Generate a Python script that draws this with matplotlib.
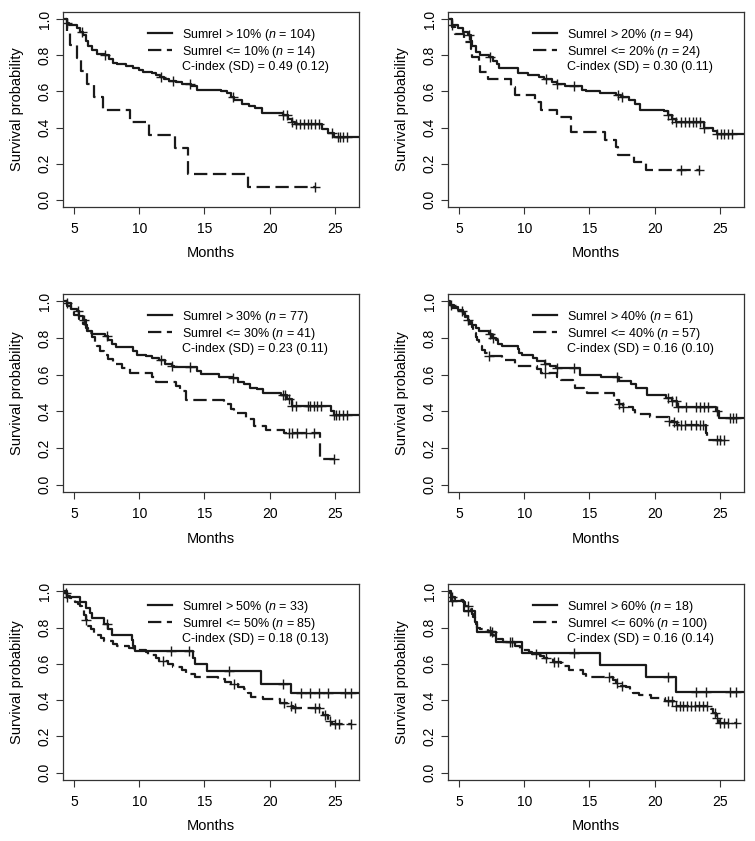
import matplotlib
matplotlib.use('Agg')
import matplotlib.pyplot as plt
import numpy as np
from matplotlib.lines import Line2D

plt.rcParams['font.family'] = ['Liberation Sans', 'DejaVu Sans']
plt.rcParams['mathtext.fontset'] = 'custom'
plt.rcParams['mathtext.rm'] = 'Liberation Sans'
plt.rcParams['mathtext.it'] = 'Liberation Sans:italic'

# legend info
thresholds = [10, 20, 30, 40, 50, 60]
n_high = [104, 94, 77, 61, 33, 18]
n_low = [14, 24, 41, 57, 85, 100]
cindex = ['0.49 (0.12)', '0.30 (0.11)', '0.23 (0.11)', '0.16 (0.10)', '0.18 (0.13)', '0.16 (0.14)']

# KM steps as (time, survival) and censor times
hi1 = [(0, 1.0), (4.45, 0.98), (4.6, 0.97), (5.2, 0.95), (5.5, 0.93), (5.7, 0.91), (5.9, 0.88), (6.1, 0.85),
       (6.4, 0.83), (6.8, 0.81), (7.4, 0.80), (7.7, 0.78), (8.0, 0.76), (8.3, 0.75), (9.0, 0.74), (9.5, 0.73),
       (10.0, 0.72), (10.3, 0.71), (11.0, 0.70), (11.3, 0.69), (11.6, 0.68), (11.9, 0.67), (12.3, 0.66),
       (12.8, 0.65), (13.3, 0.64), (14.0, 0.63), (14.4, 0.61), (16.3, 0.60), (16.7, 0.59), (17.0, 0.57),
       (17.3, 0.55), (17.9, 0.53), (18.4, 0.52), (18.9, 0.51), (19.4, 0.48), (21.0, 0.47), (21.4, 0.45),
       (21.7, 0.43), (21.9, 0.42), (24.0, 0.39), (24.5, 0.37), (24.9, 0.35), (27.5, 0.35)]
hi1_cens = [4.5, 5.6, 7.4, 11.7, 12.6, 13.9, 17.2, 21.0, 21.3, 21.7, 22.0, 22.3, 22.6, 22.9, 23.2, 23.5,
            23.8, 24.8, 25.2, 25.4, 25.6, 25.9]
lo1 = [(0, 1.0), (4.5, 0.929), (4.7, 0.857), (5.25, 0.786), (5.55, 0.714), (5.97, 0.643), (6.56, 0.571),
       (7.25, 0.5), (9.3, 0.429), (10.75, 0.357), (12.75, 0.286), (13.7, 0.143), (18.3, 0.071), (23.5, 0.071)]
lo1_cens = [23.5]

hi2 = [(0, 1.0), (4.5, 0.97), (4.9, 0.95), (5.3, 0.93), (5.7, 0.91), (5.9, 0.88), (6.0, 0.85), (6.3, 0.82),
       (6.6, 0.80), (7.3, 0.79), (7.6, 0.77), (7.9, 0.75), (8.1, 0.73), (9.5, 0.70), (10.3, 0.69), (11.1, 0.68),
       (11.5, 0.67), (12.1, 0.65), (12.5, 0.64), (13.1, 0.63), (14.4, 0.61), (14.7, 0.60), (15.8, 0.59),
       (17.0, 0.58), (17.4, 0.57), (18.0, 0.55), (18.5, 0.53), (18.9, 0.50), (20.7, 0.49), (21.0, 0.47),
       (21.3, 0.45), (21.6, 0.43), (23.8, 0.40), (24.5, 0.38), (24.8, 0.365), (27.5, 0.365)]
hi2_cens = [4.5, 5.8, 7.4, 11.7, 12.5, 13.8, 17.2, 17.5, 21.0, 21.3, 21.6, 22.0, 22.3, 22.6, 22.9, 23.2,
            23.5, 23.8, 24.8, 25.1, 25.3, 25.6, 25.9]
lo2 = [(0, 1.0), (4.5, 0.958), (4.7, 0.917), (5.4, 0.875), (5.9, 0.833), (6.0, 0.792), (6.5, 0.75),
       (6.6, 0.708), (7.2, 0.667), (9.0, 0.625), (9.3, 0.583), (10.8, 0.542), (11.3, 0.50), (12.5, 0.458),
       (13.6, 0.375), (16.2, 0.333), (17.0, 0.292), (17.2, 0.25), (18.4, 0.208), (19.3, 0.167), (23.5, 0.167)]
lo2_cens = [22.0, 23.4]

hi3 = [(0, 1.0), (4.5, 0.99), (4.8, 0.96), (5.2, 0.95), (5.4, 0.92), (5.7, 0.90), (5.9, 0.87), (6.0, 0.84),
       (6.4, 0.82), (7.4, 0.81), (7.6, 0.79), (7.9, 0.77), (8.2, 0.75), (9.5, 0.73), (9.8, 0.71), (10.5, 0.70),
       (11.0, 0.69), (11.5, 0.68), (12.0, 0.66), (12.5, 0.65), (12.7, 0.64), (14.4, 0.62), (14.7, 0.605),
       (16.1, 0.59), (17.2, 0.58), (17.6, 0.56), (18.0, 0.55), (18.5, 0.53), (19.0, 0.52), (19.5, 0.50),
       (20.9, 0.49), (21.3, 0.47), (21.7, 0.43), (24.7, 0.40), (24.9, 0.38), (27.5, 0.38)]
hi3_cens = [4.5, 5.3, 5.8, 7.5, 11.7, 12.5, 13.9, 17.2, 21.0, 21.2, 21.5, 21.7, 22.0, 22.9, 23.1, 23.4,
            23.6, 23.9, 24.9, 25.1, 25.3, 25.6, 25.9]
lo3 = [(0, 1.0), (4.5, 0.976), (4.8, 0.951), (5.0, 0.927), (5.4, 0.902), (5.7, 0.878), (5.9, 0.853),
       (6.1, 0.829), (6.4, 0.805), (6.6, 0.78), (6.8, 0.756), (7.0, 0.73), (7.3, 0.707), (7.6, 0.683),
       (8.0, 0.658), (8.7, 0.634), (9.3, 0.61), (11.0, 0.585), (11.3, 0.56), (12.8, 0.537), (13.1, 0.512),
       (13.6, 0.463), (16.5, 0.44), (17.0, 0.415), (17.3, 0.39), (18.2, 0.36), (18.8, 0.32), (19.7, 0.30),
       (21.1, 0.28), (23.85, 0.14), (24.9, 0.14)]
lo3_cens = [21.5, 21.7, 22.1, 22.8, 23.4, 24.9]

hi4 = [(0, 1.0), (4.3, 0.98), (4.6, 0.967), (4.9, 0.951), (5.3, 0.934), (5.5, 0.918), (5.7, 0.90),
       (5.8, 0.885), (6.0, 0.869), (6.3, 0.852), (6.5, 0.836), (7.3, 0.82), (7.5, 0.80), (7.8, 0.787),
       (8.0, 0.77), (8.3, 0.754), (9.5, 0.738), (9.6, 0.72), (9.8, 0.705), (10.7, 0.69), (11.0, 0.673),
       (11.6, 0.656), (12.0, 0.645), (12.4, 0.635), (14.3, 0.60), (15.9, 0.585), (17.3, 0.568), (18.2, 0.55),
       (18.6, 0.53), (19.4, 0.49), (20.9, 0.475), (21.3, 0.455), (21.7, 0.425), (24.7, 0.40), (24.9, 0.365),
       (27.5, 0.365)]
hi4_cens = [4.4, 5.7, 7.4, 7.6, 11.6, 12.5, 13.8, 17.1, 21.0, 21.3, 21.6, 21.8, 22.4, 23.2, 23.5, 23.8,
            24.1, 24.8, 25.8, 26.0, 26.2]
lo4 = [(0, 1.0), (4.3, 0.982), (4.5, 0.965), (5.0, 0.947), (5.3, 0.93), (5.5, 0.912), (5.6, 0.895),
       (5.8, 0.877), (6.0, 0.86), (6.1, 0.842), (6.2, 0.825), (6.3, 0.807), (6.4, 0.789), (6.5, 0.772),
       (6.6, 0.754), (6.8, 0.737), (7.0, 0.72), (7.3, 0.70), (8.3, 0.68), (9.3, 0.66), (9.4, 0.645),
       (11.0, 0.63), (11.3, 0.61), (12.5, 0.59), (12.8, 0.57), (13.7, 0.55), (13.9, 0.53), (14.6, 0.51),
       (14.8, 0.50), (16.9, 0.48), (17.1, 0.46), (17.3, 0.44), (17.6, 0.425), (18.3, 0.405), (18.5, 0.385),
       (19.6, 0.37), (21.1, 0.35), (21.5, 0.34), (21.7, 0.325), (23.9, 0.28), (24.0, 0.245), (25.3, 0.245)]
lo4_cens = [5.2, 7.3, 11.6, 17.3, 17.6, 21.1, 21.5, 21.7, 22.0, 22.3, 22.8, 23.2, 23.5, 23.7, 24.8, 25.0, 25.3]

hi5 = [(0, 1.0), (4.5, 0.97), (5.5, 0.94), (5.9, 0.91), (6.2, 0.88), (6.4, 0.85), (7.3, 0.82), (7.6, 0.79),
       (7.9, 0.76), (9.45, 0.73), (9.55, 0.70), (9.7, 0.67), (14.1, 0.63), (14.3, 0.60), (15.2, 0.56),
       (19.3, 0.49), (21.6, 0.44), (27.5, 0.44)]
hi5_cens = [4.5, 7.5, 12.4, 13.8, 16.9, 21.0, 22.4, 23.1, 23.8, 24.5, 25.8, 26.2]
lo5 = [(0, 1.0), (4.3, 0.988), (4.5, 0.976), (4.7, 0.965), (4.9, 0.953), (5.1, 0.94), (5.3, 0.93),
       (5.5, 0.918), (5.6, 0.906), (5.7, 0.894), (5.8, 0.87), (5.9, 0.84), (6.0, 0.81), (6.3, 0.79),
       (6.5, 0.76), (7.1, 0.745), (7.3, 0.727), (8.0, 0.71), (8.3, 0.696), (9.2, 0.685), (9.6, 0.678),
       (10.5, 0.665), (10.7, 0.65), (11.3, 0.63), (11.5, 0.617), (12.2, 0.60), (12.6, 0.585), (13.3, 0.565),
       (13.6, 0.543), (14.3, 0.53), (16.0, 0.515), (16.6, 0.50), (17.0, 0.488), (17.6, 0.475), (18.0, 0.46),
       (18.3, 0.44), (18.6, 0.42), (19.5, 0.405), (20.8, 0.387), (21.3, 0.37), (21.8, 0.355), (24.1, 0.32),
       (24.5, 0.285), (24.8, 0.267), (26.2, 0.267)]
lo5_cens = [4.4, 5.9, 11.8, 17.3, 21.1, 21.6, 21.9, 23.5, 23.8, 24.2, 24.6, 25.0, 25.3, 26.2]

hi6 = [(0, 1.0), (4.4, 0.944), (5.4, 0.889), (6.25, 0.833), (6.35, 0.778), (7.8, 0.722), (9.8, 0.66),
       (15.8, 0.594), (19.3, 0.53), (21.6, 0.445), (27.5, 0.445)]
hi6_cens = [4.5, 5.7, 7.5, 13.8, 21.0, 23.2, 23.9, 25.8, 26.2]
lo6 = [(0, 1.0), (4.3, 0.99), (4.4, 0.98), (4.5, 0.97), (4.7, 0.96), (5.0, 0.95), (5.3, 0.94), (5.45, 0.93),
       (5.5, 0.92), (5.9, 0.90), (6.0, 0.875), (6.1, 0.86), (6.2, 0.84), (6.3, 0.82), (6.4, 0.80), (6.6, 0.79),
       (7.2, 0.78), (7.55, 0.76), (7.7, 0.735), (8.4, 0.72), (9.3, 0.70), (9.7, 0.678), (10.4, 0.665),
       (10.6, 0.657), (11.2, 0.645), (11.5, 0.63), (12.2, 0.61), (12.8, 0.59), (13.4, 0.565), (14.5, 0.545),
       (14.7, 0.53), (16.8, 0.51), (17.0, 0.497), (17.3, 0.48), (17.8, 0.47), (18.1, 0.455), (18.3, 0.44),
       (18.8, 0.427), (19.7, 0.414), (20.8, 0.396), (21.5, 0.368), (24.3, 0.35), (24.5, 0.331), (24.7, 0.304),
       (24.9, 0.276), (26.2, 0.276)]
lo6_cens = [4.5, 5.7, 7.4, 8.9, 9.1, 10.9, 11.7, 12.3, 12.6, 16.5, 17.1, 17.5, 21.0, 21.3, 21.6, 21.9,
            22.2, 22.5, 22.8, 23.1, 23.4, 23.7, 24.0, 24.6, 24.8, 25.0, 25.3, 25.6, 26.2]

panels = [(hi1, hi1_cens, lo1, lo1_cens), (hi2, hi2_cens, lo2, lo2_cens), (hi3, hi3_cens, lo3, lo3_cens),
          (hi4, hi4_cens, lo4, lo4_cens), (hi5, hi5_cens, lo5, lo5_cens), (hi6, hi6_cens, lo6, lo6_cens)]

INK = '#1a1a1a'
DASH = (0, (6, 2.5))


def km(ax, steps, cens, ls):
    t, s = zip(*steps)
    t = np.array(t)
    s = np.array(s)
    ax.step(t, s, where='post', color=INK, lw=1.6, linestyle=ls)
    cy = s[np.searchsorted(t, cens, side='right') - 1]
    ax.plot(cens, cy, '+', color=INK, ms=7, mew=1.0, linestyle='none')


W, H = 755, 841
lefts = [63, 448]
tops = [12, 294, 584]
heights = [195, 198, 196]

fig = plt.figure(figsize=(W / 100, H / 100), dpi=100)
for i, (hi, hic, lo, loc) in enumerate(panels):
    r, c = divmod(i, 2)
    ax = fig.add_axes([lefts[c] / W, 1 - (tops[r] + heights[r]) / H, 296 / W, heights[r] / H])
    km(ax, hi, hic, '-')
    km(ax, lo, loc, DASH)
    ax.set_xlim(4.16, 26.84)
    ax.set_ylim(-0.04, 1.04)
    ax.set_xticks([5, 10, 15, 20, 25])
    ax.set_yticks(np.arange(0, 1.01, 0.2))
    ax.set_yticklabels(['%.1f' % v for v in np.arange(0, 1.01, 0.2)], rotation=90, va='center')
    ax.tick_params(direction='out', length=5, width=0.8, labelsize=10, color='#333333')
    ax.tick_params(axis='x', pad=6)
    ax.tick_params(axis='y', pad=3)
    for sp in ax.spines.values():
        sp.set_linewidth(0.9)
        sp.set_color('#333333')
    ax.set_xlabel('Months', fontsize=10.5)
    ax.set_ylabel('Survival probability', fontsize=10.5)
    ax.xaxis.set_label_coords(0.5, -0.2)
    ax.yaxis.set_label_coords(-0.133, 0.5)

    handles = [Line2D([], [], color=INK, lw=1.6),
               Line2D([], [], color=INK, lw=1.6, linestyle=DASH),
               Line2D([], [], linestyle='none')]
    labels = ['Sumrel > %d%% ($n$ = %d)' % (thresholds[i], n_high[i]),
              'Sumrel <= %d%% ($n$ = %d)' % (thresholds[i], n_low[i]),
              'C-index (SD) = %s' % cindex[i]]
    ax.legend(handles, labels, loc='upper left', bbox_to_anchor=(0.287, 0.925), frameon=False,
              fontsize=9, handlelength=1.9, handletextpad=0.8, labelspacing=0.08,
              borderpad=0, borderaxespad=0)

fig.savefig('out.png', dpi=100)
